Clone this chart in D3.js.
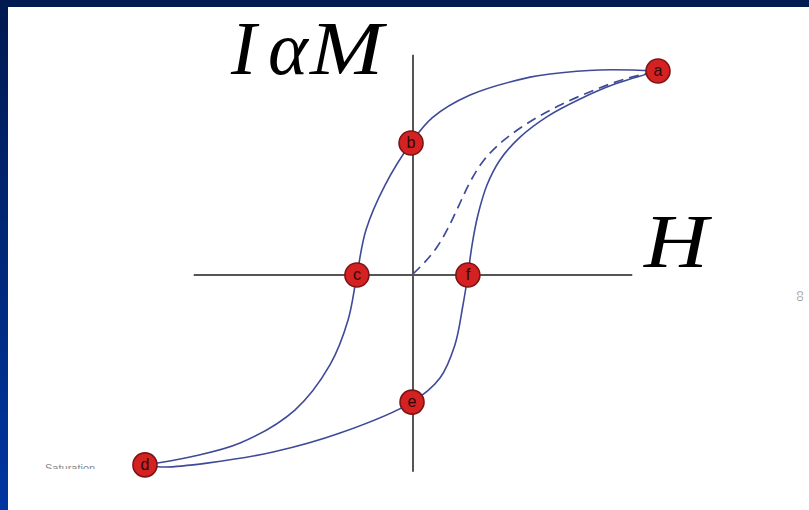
<!DOCTYPE html>
<html>
<head>
<meta charset="utf-8">
<script src="https://cdn.jsdelivr.net/npm/d3@7"></script>
<style>
  html, body { margin: 0; padding: 0; background: #ffffff; }
  svg { display: block; }
</style>
</head>
<body>
<svg id="chart" width="809" height="510"></svg>
<script>
// Hysteresis loop of a ferromagnet: magnetisation M (intensity I) versus field H.
// Values are in arbitrary units, with saturation (a) at H = 10, M = 10.

// Marked states on the loop
const pointLabels = ["a", "b", "c", "d", "e", "f"];
const pointH      = [10.0,  -0.08, -2.29, -10.94, -0.04, 2.24];
const pointM      = [10.0,   6.47,  0.0,   -9.31, -6.23, 0.0];

// Descending branch a → b → c → d
const downH = [10.0, 7.63, 5.59, 4.78, 2.33, 0.78, -0.08, -1.14, -1.92, -2.29, -2.65, -3.39, -4.82, -7.06, -9.10, -10.94];
const downM = [10.0, 10.05, 9.85, 9.7, 8.82, 7.70, 6.47, 4.41, 2.21, 0.0, -2.21, -4.41, -6.62, -8.24, -8.92, -9.31];

// Ascending branch d → e → f → a
const upH = [-10.94, -10.12, -8.41, -5.71, -2.98, -0.04, 1.10, 1.71, 2.04, 2.24, 2.41, 2.65, 3.02, 3.55, 4.37, 5.51, 6.82, 8.24, 10.0];
const upM = [-9.31, -9.41, -9.22, -8.68, -7.75, -6.23, -5.05, -3.43, -1.47, 0.0, 1.47, 2.94, 4.41, 5.64, 6.76, 7.79, 8.63, 9.36, 10.0];

// Initial magnetisation curve from the demagnetised state to saturation
const initH = [0.0, 0.49, 0.98, 1.43, 1.88, 2.33, 2.90, 3.67, 4.69, 5.92, 7.31, 8.65, 10.0];
const initM = [0.05, 0.64, 1.37, 2.30, 3.43, 4.56, 5.64, 6.57, 7.45, 8.28, 9.02, 9.61, 10.0];

// Extent of the drawn axes
const hAxisExtent = [-8.95, 8.95];
const mAxisExtent = [-9.65, 10.8];

const svg = d3.select("#chart");
const W = 809, H = 510;

// Slide frame: navy bars on the top and left edges
const defs = svg.append("defs");
const grad = defs.append("linearGradient")
  .attr("id", "frameGrad").attr("x1", 0).attr("y1", 0).attr("x2", 0).attr("y2", 1);
grad.append("stop").attr("offset", "0%").attr("stop-color", "#001a50");
grad.append("stop").attr("offset", "100%").attr("stop-color", "#0036a2");

svg.append("rect").attr("x", 0).attr("y", 0).attr("width", W).attr("height", H).attr("fill", "#ffffff");
svg.append("rect").attr("x", 0).attr("y", 0).attr("width", W).attr("height", 7).attr("fill", "#001b52");
svg.append("rect").attr("x", 0).attr("y", 0).attr("width", 8).attr("height", H).attr("fill", "url(#frameGrad)");

const x = d3.scaleLinear().domain([-10, 10]).range([168, 658]);
const y = d3.scaleLinear().domain([-10, 10]).range([479, 71]);

// Axes through the origin
const axisColor = "#555555";
svg.append("line")
  .attr("x1", x(hAxisExtent[0])).attr("x2", x(hAxisExtent[1]))
  .attr("y1", y(0)).attr("y2", y(0))
  .attr("stroke", axisColor).attr("stroke-width", 2);
svg.append("line")
  .attr("x1", x(0)).attr("x2", x(0))
  .attr("y1", y(mAxisExtent[1])).attr("y2", y(mAxisExtent[0]))
  .attr("stroke", axisColor).attr("stroke-width", 2);

const line = d3.line()
  .x(d => x(d[0]))
  .y(d => y(d[1]))
  .curve(d3.curveCatmullRom.alpha(0.5));

const zip = (a, b) => a.map((v, i) => [v, b[i]]);
const curveColor = "#3f4a98";

svg.append("path")
  .attr("d", line(zip(initH, initM)))
  .attr("fill", "none").attr("stroke", curveColor).attr("stroke-width", 1.7)
  .attr("stroke-dasharray", "10,6");

svg.append("path")
  .attr("d", line(zip(downH, downM)))
  .attr("fill", "none").attr("stroke", curveColor).attr("stroke-width", 1.6);

svg.append("path")
  .attr("d", line(zip(upH, upM)))
  .attr("fill", "none").attr("stroke", curveColor).attr("stroke-width", 1.6);

// Point markers
const pts = pointLabels.map((l, i) => ({ label: l, h: pointH[i], m: pointM[i] }));
const g = svg.append("g").selectAll("g").data(pts).join("g")
  .attr("transform", d => `translate(${x(d.h)},${y(d.m)})`);
g.append("circle")
  .attr("r", 12)
  .attr("fill", "#d42222")
  .attr("stroke", "#7d1414").attr("stroke-width", 1.6);
g.append("text")
  .attr("text-anchor", "middle")
  .attr("dy", "0.33em")
  .attr("font-family", "Liberation Sans, Arial, sans-serif")
  .attr("font-size", 16)
  .attr("fill", "#2e0808")
  .text(d => d.label);

// Axis titles
const serif = "Liberation Serif, 'Times New Roman', serif";
svg.append("text")
  .attr("x", 231).attr("y", 74)
  .attr("font-family", serif).attr("font-style", "italic").attr("font-size", 76)
  .text("I");
svg.append("text")
  .attr("x", 268).attr("y", 74)
  .attr("font-family", serif).attr("font-style", "italic").attr("font-size", 76)
  .text("α");
svg.append("text")
  .attr("x", 310).attr("y", 74)
  .attr("font-family", serif).attr("font-style", "italic").attr("font-size", 76)
  .attr("textLength", 73).attr("lengthAdjust", "spacingAndGlyphs")
  .text("M");

svg.append("text")
  .attr("x", 644).attr("y", 267)
  .attr("font-family", serif).attr("font-style", "italic").attr("font-size", 76)
  .attr("textLength", 64).attr("lengthAdjust", "spacingAndGlyphs")
  .text("H");

// Faint leftover captions at the edges of the figure
const clip = defs.append("clipPath").attr("id", "capClip");
clip.append("rect").attr("x", 0).attr("y", 455).attr("width", 140).attr("height", 14);
svg.append("text")
  .attr("x", 45).attr("y", 472)
  .attr("clip-path", "url(#capClip)")
  .attr("font-family", "Liberation Sans, Arial, sans-serif")
  .attr("font-size", 11)
  .attr("fill", "#8a8a8a")
  .text("Saturation");

svg.append("text")
  .attr("transform", "translate(797,296) rotate(90)")
  .attr("text-anchor", "middle")
  .attr("font-family", "Liberation Sans, Arial, sans-serif")
  .attr("font-size", 10)
  .attr("fill", "#9a9a9a")
  .text("co");
</script>
</body>
</html>
